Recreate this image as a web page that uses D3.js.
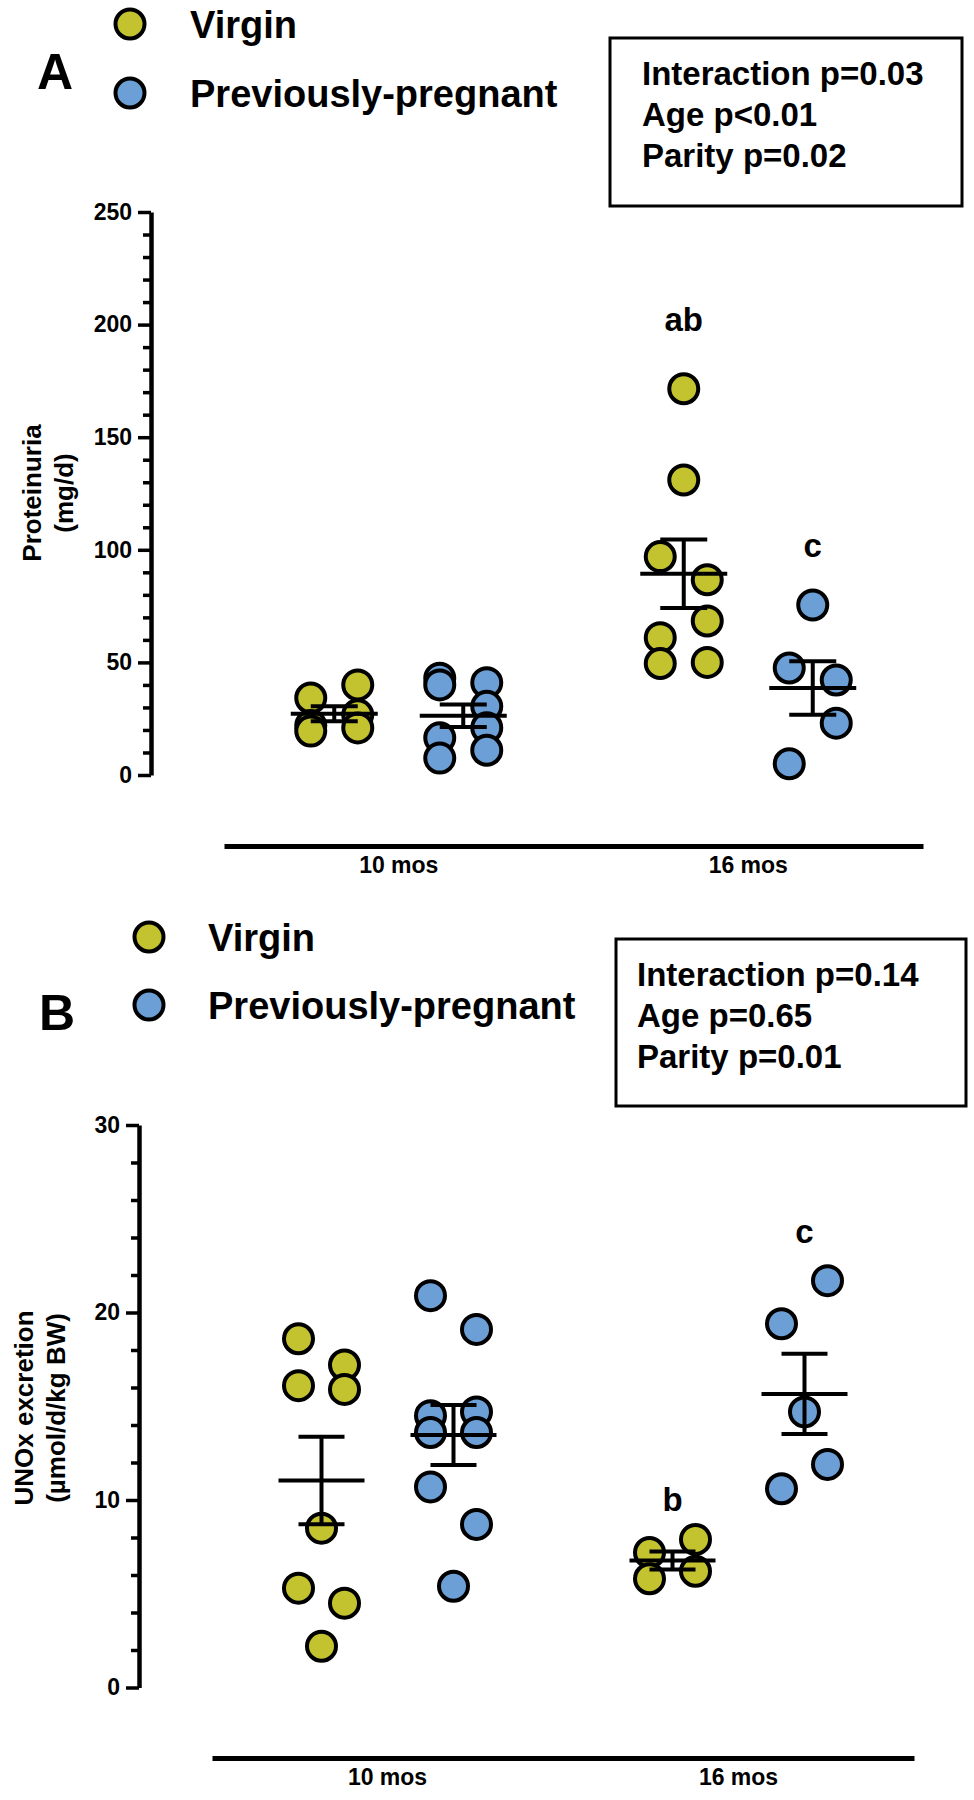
<!DOCTYPE html>
<html>
<head>
<meta charset="utf-8">
<script src="https://cdn.jsdelivr.net/npm/d3@7"></script>
<style>
  html, body { margin: 0; padding: 0; background: #ffffff; }
  svg { display: block; font-family: "Liberation Sans", Arial, Helvetica, sans-serif; font-weight: bold; }
</style>
</head>
<body>
<script>
// ---------------- DATA ----------------
const ages = ["10 mos", "16 mos"];
const groups = ["Virgin", "Previously-pregnant"];

// Panel A: Proteinuria (mg/d)
const protVirgin10 = [34.2, 40, 22, 26.7, 19.5, 20.9];
const protPreg10   = [43, 41, 40, 30.5, 16.5, 21, 7.5, 11];
const protVirgin16 = [171.5, 131, 97, 86.7, 61, 68.4, 49.5, 50];
const protPreg16   = [75.5, 47.5, 42.2, 5, 23];
const protTicks = [0, 50, 100, 150, 200, 250];
const protStats = ["Interaction p=0.03", "Age p<0.01", "Parity p=0.02"];
const protTitle = ["Proteinuria", "(mg/d)"];
const protLetters = [
  { age: "16 mos", group: "Virgin", text: "ab", value: 197 },
  { age: "16 mos", group: "Previously-pregnant", text: "c", value: 97 }
];

// Panel B: UNOx excretion (µmol/d/kg BW)
const unoxVirgin10 = [18.6, 17.2, 16.1, 15.9, 8.5, 5.3, 4.5, 2.2];
const unoxPreg10   = [20.9, 19.1, 14.5, 14.7, 13.6, 13.6, 10.7, 8.7, 5.4];
const unoxVirgin16 = [7.2, 7.9, 5.8, 6.2];
const unoxPreg16   = [19.4, 21.7, 14.7, 10.6, 11.9];
const unoxTicks = [0, 10, 20, 30];
const unoxStats = ["Interaction p=0.14", "Age p=0.65", "Parity p=0.01"];
const unoxTitle = ["UNOx excretion", "(µmol/d/kg BW)"];
const unoxLetters = [
  { age: "16 mos", group: "Virgin", text: "b", value: 9.4 },
  { age: "16 mos", group: "Previously-pregnant", text: "c", value: 23.7 }
];

// ---------------- STYLE ----------------
const colors = { "Virgin": "#c3c22f", "Previously-pregnant": "#6b9fd6" };
const R = 14.5, DOT_STROKE = 4;

const svg = d3.select("body").append("svg")
  .attr("width", 974).attr("height", 1800)
  .attr("viewBox", "0 0 974 1800");

// place points of a group side by side when they would overlap (rows of max 2)
function jitter(values, pxPerUnit, threshold, half) {
  const idx = values.map((v, i) => ({ v, i })).sort((a, b) => b.v - a.v);
  const out = new Array(values.length).fill(0);
  let k = 0;
  while (k < idx.length) {
    if (k + 1 < idx.length && (idx[k].v - idx[k + 1].v) * pxPerUnit < threshold) {
      const a = idx[k], b = idx[k + 1];
      const l = a.i < b.i ? a : b, r = a.i < b.i ? b : a;
      out[l.i] = -half; out[r.i] = half; k += 2;
    } else { out[idx[k].i] = 0; k += 1; }
  }
  return out;
}

function drawPanel(p) {
  const g = svg.append("g");
  const y = d3.scaleLinear().domain(p.yDomain).range(p.yRange);
  const x0 = d3.scaleBand().domain(ages).range(p.xRange).padding(0);
  const x1 = d3.scalePoint().domain(groups).range([-p.groupOff, p.groupOff]);
  const cx = (age, grp) => x0(age) + x0.bandwidth() / 2 + x1(grp);

  // panel letter
  g.append("text").attr("x", p.letter.x).attr("y", p.letter.y)
    .attr("font-size", 50).text(p.letter.text);

  // legend
  groups.forEach((grp, k) => {
    g.append("circle").attr("cx", p.legend.x).attr("cy", p.legend.ys[k]).attr("r", R)
      .attr("fill", colors[grp]).attr("stroke", "#000").attr("stroke-width", DOT_STROKE);
    g.append("text").attr("x", p.legend.tx).attr("y", p.legend.ys[k] + 13.5)
      .attr("font-size", 38).text(grp);
  });

  // stats box
  g.append("rect").attr("x", p.box.x).attr("y", p.box.y)
    .attr("width", p.box.w).attr("height", p.box.h)
    .attr("fill", "none").attr("stroke", "#000").attr("stroke-width", 3);
  p.stats.forEach((s, k) => {
    g.append("text").attr("x", p.box.tx).attr("y", p.box.y + 47 + k * 41)
      .attr("font-size", 33).text(s);
  });

  // y axis (major)
  const yAxisG = g.append("g").attr("transform", `translate(${p.axisX},0)`)
    .call(d3.axisLeft(y).tickValues(p.ticks).tickSize(13).tickSizeOuter(0)
      .tickPadding(6).tickFormat(d3.format("d")));
  yAxisG.select(".domain").attr("stroke", "#000").attr("stroke-width", 4.5);
  yAxisG.selectAll(".tick line").attr("stroke", "#000").attr("stroke-width", 3.5);
  yAxisG.selectAll(".tick text").attr("font-size", 23).attr("font-weight", "bold")
    .attr("font-family", "'Liberation Sans', Arial, sans-serif").attr("fill", "#000");

  // y axis (minor)
  const minor = d3.range(p.yDomain[0], p.yDomain[1] + 1e-9, p.minorStep)
    .filter(v => !p.ticks.some(t => Math.abs(t - v) < 1e-9));
  const minG = g.append("g").attr("transform", `translate(${p.axisX},0)`)
    .call(d3.axisLeft(y).tickValues(minor).tickSize(8).tickFormat(""));
  minG.select(".domain").remove();
  minG.selectAll(".tick line").attr("stroke", "#000").attr("stroke-width", 3.5);

  // y title (two lines, rotated)
  p.title.forEach((t, k) => {
    g.append("text").attr("text-anchor", "middle").attr("font-size", 26)
      .attr("transform", `translate(${p.titleX[k]},${p.titleY}) rotate(-90)`).text(t);
  });

  // x axis
  const xAxisG = g.append("g").attr("transform", `translate(0,${p.xAxisY})`)
    .call(d3.axisBottom(x0).tickSize(0).tickSizeOuter(0).tickPadding(11));
  xAxisG.select(".domain").attr("stroke", "#000").attr("stroke-width", 5);
  xAxisG.selectAll(".tick text").attr("font-size", 23).attr("font-weight", "bold")
    .attr("font-family", "'Liberation Sans', Arial, sans-serif").attr("fill", "#000");

  // points
  const pxPerUnit = Math.abs(y(1) - y(0));
  const stats = [];
  ages.forEach((age, ai) => {
    groups.forEach(grp => {
      const vals = p.data[grp][ai];
      const offs = jitter(vals, pxPerUnit, 44, p.halfW);
      const c = cx(age, grp);
      g.append("g").selectAll("circle").data(vals).join("circle")
        .attr("cx", (d, i) => c + offs[i]).attr("cy", d => y(d)).attr("r", R)
        .attr("fill", colors[grp]).attr("stroke", "#000").attr("stroke-width", DOT_STROKE);
      const m = d3.mean(vals), sem = d3.deviation(vals) / Math.sqrt(vals.length);
      stats.push({ c, m, sem });
    });
  });

  // mean ± SEM
  const lg = g.append("g").attr("stroke", "#000").attr("stroke-width", 4).attr("fill", "none");
  stats.forEach(s => {
    lg.append("line").attr("x1", s.c - p.meanHalf).attr("x2", s.c + p.meanHalf)
      .attr("y1", y(s.m)).attr("y2", y(s.m));
    lg.append("line").attr("x1", s.c).attr("x2", s.c)
      .attr("y1", y(s.m + s.sem)).attr("y2", y(s.m - s.sem));
    [s.m + s.sem, s.m - s.sem].forEach(v => {
      lg.append("line").attr("x1", s.c - p.halfW).attr("x2", s.c + p.halfW)
        .attr("y1", y(v)).attr("y2", y(v));
    });
  });

  // significance letters
  p.letters.forEach(l => {
    g.append("text").attr("x", cx(l.age, l.group)).attr("y", y(l.value))
      .attr("text-anchor", "middle").attr("font-size", 33).text(l.text);
  });
}

drawPanel({
  letter: { text: "A", x: 37, y: 89 },
  legend: { x: 130, ys: [24, 93], tx: 190 },
  box: { x: 610, y: 38, w: 352, h: 168, tx: 642 },
  stats: protStats,
  yDomain: [0, 250], yRange: [775, 212], ticks: protTicks, minorStep: 10,
  axisX: 151,
  title: protTitle, titleX: [41, 73], titleY: 493,
  xRange: [224, 923], xAxisY: 846,
  groupOff: 64.5, halfW: 23.5, meanHalf: 43.5,
  data: { "Virgin": [protVirgin10, protVirgin16], "Previously-pregnant": [protPreg10, protPreg16] },
  letters: protLetters
});

drawPanel({
  letter: { text: "B", x: 39, y: 1030 },
  legend: { x: 149, ys: [937, 1005], tx: 208 },
  box: { x: 616, y: 939, w: 350, h: 167, tx: 637 },
  stats: unoxStats,
  yDomain: [0, 30], yRange: [1687.5, 1125], ticks: unoxTicks, minorStep: 2,
  axisX: 139,
  title: unoxTitle, titleX: [33, 65], titleY: 1408,
  xRange: [212, 914], xAxisY: 1758,
  groupOff: 66, halfW: 23, meanHalf: 43,
  data: { "Virgin": [unoxVirgin10, unoxVirgin16], "Previously-pregnant": [unoxPreg10, unoxPreg16] },
  letters: unoxLetters
});
</script>
</body>
</html>
